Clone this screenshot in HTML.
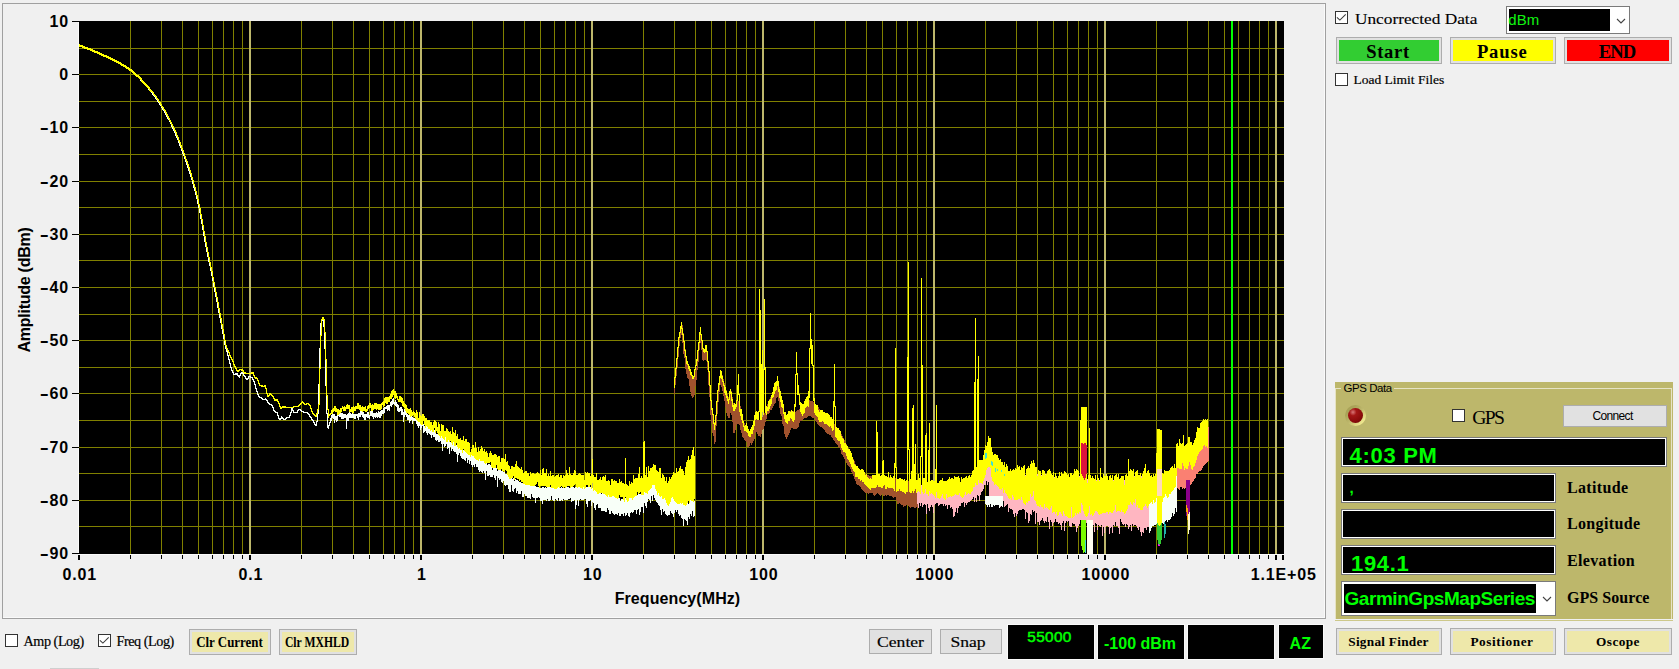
<!DOCTYPE html>
<html><head><meta charset="utf-8"><title>Spectrum</title>
<style>
html,body{margin:0;padding:0;}
body{width:1679px;height:669px;background:#f0f0f0;position:relative;overflow:hidden;font-family:"Liberation Serif",serif;color:#000;}
.abs,.yl,.xl,.chart,.cb,.btn,.cbtn,.blk,.lbl{position:absolute;}
.panel{left:2px;top:3px;width:1322px;height:614px;border:1px solid #a0a0a0;box-shadow:inset -1px -1px 0 #fafafa;}
.chart{left:0;top:0;}
.comic{font-family:"Liberation Sans","DejaVu Sans",sans-serif;font-weight:bold;}
.yl{right:1610px;width:60px;text-align:right;font:bold 16px/20px "Liberation Sans",sans-serif;white-space:nowrap;letter-spacing:.85px;margin-top:1px;}
.xl{top:565px;width:100px;text-align:center;font:bold 16px/20px "Liberation Sans",sans-serif;white-space:nowrap;letter-spacing:.85px;}
.xtitle{left:577.5px;top:589px;letter-spacing:.08px;width:200px;text-align:center;font:bold 16px/20px "Liberation Sans",sans-serif;}
.ytitle{left:-75px;top:279.5px;width:200px;height:20px;text-align:center;letter-spacing:-.25px;font:bold 16px/20px "Liberation Sans",sans-serif;transform:rotate(-90deg);transform-origin:center center;white-space:nowrap;}
.hy{display:inline-block;transform:scaleX(1.7);transform-origin:100% 50%;margin-right:-.3px;}
.cb{width:11px;height:11px;border:1px solid #333;background:#fff;}
.cb svg{position:absolute;left:0;top:0;}
.lbl{white-space:nowrap;line-height:20px;}
.cbtn{box-sizing:border-box;border:1px solid #adadad;background:#e1e1e1;}
.cbtn i{position:absolute;left:2px;top:2px;right:2px;bottom:2px;display:block;}
.cbtn span{position:absolute;left:0;right:0;text-align:center;font-style:normal;font-weight:bold;white-space:nowrap;}
.btn{box-sizing:border-box;border:1px solid #adadad;background:#e1e1e1;text-align:center;white-space:nowrap;}
.blk{box-shadow:0 0 0 1px #fafafa;background:#000;color:#00ff00;white-space:nowrap;overflow:hidden;}
.field{position:absolute;box-sizing:border-box;border:1px solid #7a7a7a;background:#000;box-shadow:inset 0 0 0 1px #fff;color:#00ff00;white-space:nowrap;overflow:hidden;}
.gps{left:1335px;top:382px;width:338px;height:237px;background:#bdb76b;}
</style></head>
<body>
<div class="abs panel"></div>
<svg class="chart" width="1330" height="620" viewBox="0 0 1330 620" shape-rendering="crispEdges">
<rect x="78" y="21" width="1206" height="534" fill="#fbfbfb"/>
<rect x="79" y="21" width="1205" height="533" fill="#000"/>
<g transform="translate(0.5,0)" fill="none" stroke-width="1">
<path stroke="#808000" d="M130 21v533M161 21v533M182 21v533M198 21v533M212 21v533M223 21v533M233 21v533M242 21v533M301 21v533M332 21v533M353 21v533M369 21v533M383 21v533M394 21v533M404 21v533M413 21v533M472 21v533M503 21v533M524 21v533M540 21v533M554 21v533M565 21v533M575 21v533M584 21v533M643 21v533M674 21v533M695 21v533M711 21v533M725 21v533M736 21v533M746 21v533M755 21v533M814 21v533M845 21v533M866 21v533M882 21v533M896 21v533M907 21v533M917 21v533M926 21v533M985 21v533M1016 21v533M1037 21v533M1053 21v533M1067 21v533M1078 21v533M1088 21v533M1097 21v533M1156 21v533M1187 21v533M1208 21v533M1224 21v533M1238 21v533M1249 21v533M1259 21v533M1268 21v533"/>
</g>
<g transform="translate(0,0.5)" fill="none" stroke-width="1"><path stroke="#808000" d="M79 48h1205M79 74h1205M79 101h1205M79 127h1205M79 154h1205M79 181h1205M79 207h1205M79 234h1205M79 260h1205M79 287h1205M79 314h1205M79 340h1205M79 367h1205M79 393h1205M79 420h1205M79 447h1205M79 473h1205M79 500h1205M79 526h1205"/></g>
<path fill="#bdb76b" d="M249 21h2v533h-2zM420 21h2v533h-2zM591 21h2v533h-2zM762 21h2v533h-2zM933 21h2v533h-2zM1104 21h2v533h-2zM1275 21h2v533h-2z"/>
<rect x="1231" y="21" width="2" height="533" fill="#00ff00"/>
<g transform="translate(0.5,0)" fill="none" stroke-width="1">
<path stroke="#f8fff8" d="M78 44v2M79 45v1M80 45v1M81 45v2M82 46v1M83 46v1M84 46v2M85 47v1M86 47v2M87 48v1M88 48v1M89 48v2M90 49v1M91 49v2M92 50v1M93 50v1M94 50v2M95 51v1M96 51v2M97 52v1M98 52v2M99 53v1M100 53v2M101 54v1M102 54v1M103 54v2M104 55v1M105 55v2M106 56v1M107 56v2M108 57v1M109 57v2M110 58v1M111 58v2M112 59v1M113 59v2M114 60v1M115 60v2M116 61v1M117 61v2M118 62v2M119 63v1M120 63v2M121 64v1M122 64v2M123 65v1M124 65v2M125 66v2M126 67v1M127 67v2M128 68v2M129 69v2M130 70v1M131 70v2M132 71v2M133 72v2M134 73v2M135 74v2M136 75v1M137 75v2M138 76v2M139 77v2M140 78v3M141 80v2M142 81v2M143 82v2M144 83v2M145 84v2M146 85v2M147 86v2M148 87v3M149 89v2M150 90v2M151 91v2M152 92v3M153 94v2M154 95v2M155 96v3M156 98v2M157 99v3M158 101v2M159 102v3M160 104v2M161 105v3M162 107v3M163 109v2M164 110v3M165 112v3M166 114v3M167 116v3M168 118v2M169 119v3M170 121v3M171 123v4M172 126v3M173 128v3M174 130v3M175 132v4M176 135v3M177 137v3M178 139v4M179 142v4M180 145v3M181 147v4M182 150v4M183 153v3M184 155v4M185 158v4M186 161v4M187 164v4M188 167v4M189 170v4M190 173v4M191 176v4M192 179v5M193 183v5M194 187v4M195 190v5M196 194v5M197 198v6M198 203v5M199 207v6M200 212v7M201 218v6M202 223v7M203 229v7M204 235v7M205 241v6M206 246v6M207 251v6M208 256v6M209 261v5M210 265v6M211 270v6M212 275v6M213 280v7M214 286v6M215 291v6M216 296v6M217 301v7M218 307v6M219 312v6M220 317v6M221 322v7M222 328v6M223 333v6M224 338v7M225 344v5M226 348v4M227 351v5M228 355v5M229 359v5M230 363v5M231 367v4M232 370v3M233 372v3M234 374v1M235 373v2M236 373v2M237 373v3M238 375v2M239 375v3M240 373v3M241 372v2M242 372v2M243 373v3M244 375v2M245 376v3M246 378v2M247 378v2M248 376v3M249 376v1M250 376v2M251 377v1M252 377v3M253 379v3M254 381v4M255 384v5M256 388v4M257 391v4M258 394v3M259 396v2M260 397v1M261 397v2M262 398v2M263 399v1M264 399v1M265 398v2M266 399v2M267 400v3M268 402v2M269 403v2M270 404v1M271 404v2M272 405v3M273 407v4M274 410v2M275 411v2M276 412v1M277 412v4M278 415v4M279 418v2M280 418v2M281 416v3M282 417v2M283 418v2M284 419v1M285 418v2M286 417v2M287 417v1M288 417v1M289 415v3M290 412v4M291 408v5M292 408v3M293 410v3M294 412v1M295 412v1M296 412v1M297 410v3M298 409v2M299 409v1M300 409v2M301 410v2M302 411v1M303 411v2M304 412v1M305 412v1M306 412v1M307 412v2M308 413v2M309 414v3M310 416v2M311 417v3M312 419v2M313 420v3M314 422v3M315 424v2M316 421v5M317 413v9M318 384v30M319 348v37M320 323v26M321 320v4M322 319v2M323 320v7M324 326v23M325 348v38M326 385v29M327 413v15M328 425v4M329 422v4M330 418v5M331 415v6M332 414v4M333 414v5M334 414v9M335 416v4M336 416v6M337 414v7M338 413v3M339 413v4M340 412v5M341 413v6M342 413v6M343 414v5M344 414v4M345 414v4M346 415v14M347 414v7M348 413v8M349 412v6M350 413v5M351 414v4M352 413v5M353 414v4M354 414v5M355 414v5M356 414v2M357 414v4M358 413v7M359 413v4M360 411v6M361 411v4M362 411v6M363 412v6M364 414v6M365 414v6M366 414v3M367 412v6M368 412v6M369 415v4M370 411v5M371 411v5M372 411v6M373 413v6M374 413v4M375 413v5M376 412v5M377 413v5M378 411v6M379 412v6M380 411v7M381 410v6M382 410v4M383 408v6M384 407v6M385 407v2M386 406v3M387 405v6M388 405v5M389 405v6M390 402v4M391 401v6M392 399v6M393 398v6M394 402v3M395 400v6M396 402v5M397 404v7M398 405v7M399 408v4M400 407v4M401 407v8M402 409v6M403 412v10M404 409v8M405 411v4M406 412v5M407 414v6M408 415v5M409 415v8M410 415v6M411 416v4M412 417v7M413 418v3M414 418v3M415 418v3M416 418v6M417 421v5M418 420v8M419 421v5M420 422v8M421 423v5M422 424v2M423 424v9M424 426v6M425 426v5M426 426v7M427 426v9M428 427v6M429 428v6M430 430v5M431 430v8M432 429v6M433 429v8M434 430v7M435 431v9M436 434v7M437 434v6M438 433v9M439 433v9M440 434v7M441 436v8M442 436v15M443 436v8M444 437v10M445 437v9M446 438v6M447 439v10M448 439v9M449 441v13M450 442v5M451 441v10M452 442v7M453 442v9M454 443v9M455 443v9M456 445v9M457 445v17M458 445v10M459 446v7M460 447v9M461 447v11M462 448v11M463 450v9M464 451v9M465 450v11M466 451v7M467 451v12M468 452v8M469 453v11M470 453v8M471 454v11M472 455v12M473 455v10M474 456v11M475 456v8M476 457v10M477 457v10M478 458v12M479 459v13M480 460v11M481 461v11M482 460v13M483 461v10M484 461v12M485 462v18M486 462v9M487 465v11M488 464v12M489 464v11M490 465v12M491 466v11M492 470v7M493 466v9M494 468v10M495 468v12M496 468v8M497 471v16M498 469v9M499 470v10M500 470v9M501 471v11M502 471v12M503 472v9M504 472v13M505 474v12M506 474v11M507 474v11M508 475v14M509 475v17M510 477v15M511 477v8M512 479v12M513 478v14M514 481v8M515 479v9M516 480v13M517 480v11M518 481v13M519 482v12M520 482v12M521 483v8M522 483v14M523 484v13M524 483v11M525 485v11M526 484v12M527 485v13M528 485v13M529 485v13M530 485v14M531 485v9M532 485v12M533 486v12M534 486v12M535 486v17M536 487v11M537 487v11M538 487v10M539 487v11M540 488v13M541 488v13M542 487v17M543 487v13M544 488v12M545 487v13M546 488v13M547 487v12M548 487v14M549 487v14M550 487v13M551 487v9M552 487v13M553 487v14M554 487v14M555 488v11M556 487v13M557 487v14M558 487v11M559 487v14M560 488v13M561 487v13M562 488v13M563 488v11M564 488v12M565 487v13M566 487v13M567 487v13M568 487v12M569 488v11M570 487v11M571 487v15M572 487v14M573 487v14M574 488v12M575 487v22M576 487v18M577 487v13M578 487v19M579 487v13M580 487v12M581 487v13M582 487v13M583 487v13M584 488v11M585 487v12M586 487v17M587 487v20M588 487v14M589 487v14M590 487v13M591 488v18M592 488v14M593 488v15M594 488v20M595 489v21M596 491v14M597 490v14M598 491v17M599 491v17M600 492v16M601 494v17M602 493v18M603 493v18M604 494v17M605 494v18M606 494v18M607 494v14M608 495v15M609 496v18M610 495v19M611 495v16M612 496v17M613 496v18M614 497v18M615 497v17M616 498v16M617 498v17M618 498v15M619 498v18M620 501v15M621 499v15M622 499v15M623 499v17M624 499v14M625 498v18M626 498v17M627 498v15M628 497v19M629 498v19M630 497v16M631 496v16M632 497v16M633 496v16M634 496v14M635 496v14M636 495v19M637 495v15M638 494v15M639 494v21M640 494v18M641 495v12M642 493v14M643 492v21M644 492v11M645 490v16M646 491v17M647 489v13M648 487v12M649 486v14M650 486v17M651 484v12M652 483v18M653 484v11M654 485v13M655 487v13M656 488v14M657 489v14M658 490v15M659 492v14M660 493v17M661 494v21M662 496v13M663 496v16M664 498v13M665 499v15M666 499v16M667 502v14M668 501v14M669 499v16M670 498v13M671 497v16M672 497v17M673 497v20M674 497v16M675 496v14M676 497v15M677 497v13M678 498v16M679 499v17M680 500v15M681 502v16M682 502v17M683 504v22M684 503v16M685 504v16M686 503v18M687 503v22M688 504v13M689 501v18M690 500v14M691 500v16M692 500v11M693 500v17M694 501v15"/>
<path stroke="#ffff00" d="M79 44v3M80 45v2M81 45v2M82 45v3M83 46v2M84 46v3M85 47v2M86 47v2M87 47v3M88 48v2M89 48v2M90 48v3M91 49v2M92 49v3M93 50v2M94 50v3M95 51v2M96 51v2M97 51v3M98 52v2M99 52v3M100 53v2M101 53v3M102 54v2M103 54v3M104 55v2M105 55v2M106 55v3M107 56v2M108 56v3M109 57v2M110 57v3M111 58v2M112 58v3M113 59v2M114 59v3M115 60v2M116 60v3M117 61v2M118 61v3M119 62v2M120 62v3M121 63v3M122 64v2M123 64v3M124 65v2M125 65v3M126 66v3M127 67v2M128 67v3M129 68v3M130 69v2M131 69v3M132 70v3M133 71v3M134 72v3M135 73v3M136 74v3M137 75v2M138 75v3M139 76v3M140 77v3M141 78v4M142 80v3M143 81v3M144 82v3M145 83v3M146 84v3M147 85v3M148 86v3M149 87v4M150 89v3M151 90v2M152 91v2M153 92v3M154 94v2M155 95v2M156 96v3M157 98v2M158 99v3M159 101v2M160 102v3M161 104v3M162 106v2M163 107v3M164 109v2M165 110v3M166 112v3M167 114v3M168 116v3M169 118v3M170 120v3M171 122v3M172 124v3M173 126v3M174 128v3M175 130v3M176 132v4M177 135v3M178 137v4M179 140v3M180 142v4M181 145v4M182 148v3M183 150v4M184 153v4M185 156v4M186 159v3M187 161v4M188 164v4M189 167v4M190 170v4M191 173v5M192 177v4M193 180v5M194 184v4M195 187v5M196 191v5M197 195v5M198 199v6M199 204v5M200 208v7M201 214v6M202 219v7M203 225v7M204 231v6M205 236v7M206 242v6M207 247v6M208 252v6M209 257v6M210 262v6M211 267v5M212 271v7M213 277v6M214 282v6M215 287v6M216 292v6M217 297v6M218 302v7M219 308v6M220 313v6M221 318v7M222 324v6M223 329v6M224 334v7M225 340v6M226 345v4M227 348v3M228 350v3M229 352v4M230 355v3M231 357v3M232 359v3M233 361v4M234 364v3M235 366v3M236 368v3M237 370v2M238 370v2M239 369v2M240 369v1M241 369v2M242 369v2M243 370v3M244 372v2M245 372v2M246 373v1M247 373v1M248 373v1M249 373v1M250 373v1M251 372v2M252 372v2M253 372v4M254 375v3M255 377v2M256 377v2M257 378v3M258 380v4M259 383v3M260 385v1M261 385v2M262 385v2M263 386v1M264 385v2M265 385v4M266 388v6M267 393v4M268 395v2M269 393v3M270 393v2M271 394v2M272 395v2M273 396v3M274 398v3M275 399v2M276 399v2M277 399v3M278 401v3M279 403v4M280 406v3M281 407v2M282 406v2M283 406v2M284 406v2M285 406v2M286 407v1M287 407v1M288 407v1M289 407v1M290 407v1M291 407v1M292 407v1M293 406v2M294 406v1M295 406v1M296 406v1M297 406v1M298 405v2M299 404v2M300 403v2M301 402v2M302 401v2M303 402v2M304 403v2M305 404v1M306 403v2M307 403v1M308 403v2M309 404v2M310 405v4M311 408v4M312 411v3M313 413v2M314 414v2M315 415v2M316 413v4M317 409v5M318 404v6M319 368v37M320 335v34M321 319v17M322 317v3M323 317v3M324 319v14M325 332v28M326 359v37M327 395v15M328 409v9M329 414v2M330 413v2M331 410v4M332 409v5M333 408v4M334 406v5M335 406v6M336 408v4M337 409v6M338 409v6M339 410v4M340 408v5M341 408v4M342 406v3M343 407v4M344 406v5M345 407v4M346 405v4M347 404v5M348 405v4M349 405v7M350 409v3M351 407v5M352 407v6M353 406v7M354 407v4M355 406v5M356 406v3M357 403v6M358 403v6M359 405v5M360 405v6M361 407v4M362 406v6M363 407v4M364 407v4M365 406v6M366 409v3M367 406v5M368 405v4M369 403v5M370 403v5M371 405v6M372 404v7M373 405v5M374 403v6M375 403v6M376 403v7M377 404v5M378 404v6M379 404v6M380 404v6M381 403v6M382 402v3M383 401v6M384 398v8M385 397v6M386 397v7M387 397v7M388 397v5M389 396v6M390 394v5M391 391v8M392 390v7M393 389v6M394 391v7M395 391v8M396 393v5M397 396v4M398 399v3M399 396v6M400 396v6M401 397v6M402 398v8M403 401v6M404 403v5M405 404v7M406 405v8M407 408v5M408 409v5M409 409v6M410 408v9M411 410v6M412 412v4M413 411v4M414 412v5M415 413v6M416 410v10M417 412v9M418 418v4M419 412v10M420 415v9M421 416v9M422 414v11M423 414v7M424 416v9M425 418v10M426 418v8M427 420v7M428 420v9M429 420v9M430 422v9M431 422v8M432 425v7M433 422v10M434 420v8M435 421v12M436 422v9M437 427v6M438 422v13M439 424v12M440 431v7M441 424v12M442 425v13M443 425v14M444 431v9M445 431v6M446 428v14M447 429v13M448 431v9M449 432v10M450 431v10M451 434v9M452 427v18M453 432v10M454 433v13M455 430v16M456 436v7M457 434v13M458 439v10M459 439v9M460 438v12M461 440v10M462 440v13M463 436v13M464 441v10M465 439v13M466 439v14M467 442v12M468 442v13M469 443v12M470 452v5M471 449v6M472 445v11M473 445v11M474 448v10M475 442v17M476 448v12M477 452v8M478 447v14M479 451v8M480 449v12M481 446v15M482 448v13M483 451v10M484 449v14M485 452v12M486 451v12M487 453v10M488 457v6M489 453v10M490 451v11M491 453v14M492 455v13M493 455v13M494 454v14M495 454v14M496 455v10M497 457v12M498 456v14M499 456v14M500 462v8M501 458v11M502 458v13M503 458v13M504 459v13M505 454v16M506 462v9M507 461v14M508 465v12M509 466v13M510 469v10M511 466v12M512 466v12M513 467v9M514 467v13M515 464v14M516 461v17M517 466v13M518 467v12M519 468v13M520 469v11M521 467v15M522 470v12M523 473v11M524 472v12M525 471v14M526 471v14M527 473v12M528 473v12M529 476v9M530 472v14M531 474v12M532 473v13M533 473v13M534 474v12M535 474v11M536 473v11M537 472v10M538 473v13M539 474v14M540 470v16M541 475v11M542 469v17M543 468v18M544 473v13M545 473v13M546 469v18M547 476v11M548 474v13M549 476v11M550 471v14M551 476v12M552 475v13M553 475v13M554 477v12M555 476v13M556 475v14M557 475v13M558 474v13M559 477v11M560 475v12M561 475v11M562 478v9M563 475v13M564 476v11M565 475v13M566 470v17M567 473v13M568 475v11M569 467v19M570 474v14M571 475v12M572 475v12M573 473v13M574 470v15M575 471v13M576 475v12M577 475v13M578 474v13M579 473v14M580 474v14M581 475v13M582 475v14M583 475v12M584 480v9M585 472v16M586 473v12M587 472v13M588 473v14M589 473v14M590 476v9M591 474v15M592 459v24M593 475v16M594 477v13M595 477v14M596 473v19M597 480v14M598 480v14M599 479v14M600 477v16M601 480v13M602 477v16M603 476v18M604 477v17M605 475v20M606 481v15M607 481v16M608 480v15M609 481v16M610 485v12M611 479v18M612 479v17M613 481v15M614 480v17M615 481v17M616 481v17M617 483v16M618 483v15M619 479v16M620 482v15M621 481v16M622 483v14M623 483v17M624 484v18M625 458v39M626 484v16M627 485v17M628 486v15M629 481v17M630 484v14M631 482v16M632 483v17M633 475v23M634 479v18M635 478v18M636 478v18M637 478v14M638 474v20M639 467v26M640 478v14M641 476v19M642 478v17M643 442v53M644 441v51M645 475v18M646 467v26M647 477v17M648 466v25M649 471v19M650 468v21M651 468v20M652 467v18M653 464v21M654 465v20M655 465v24M656 470v21M657 471v24M658 472v21M659 468v28M660 468v29M661 478v18M662 474v25M663 475v24M664 477v21M665 481v19M666 477v26M667 483v22M668 481v25M669 477v27M670 479v23M671 477v21M672 475v22M673 472v27M674 473v28M675 473v29M676 468v35M677 472v32M678 471v33M679 468v36M680 466v37M681 469v35M682 469v34M683 471v34M684 475v30M685 467v39M686 462v43M687 460v43M688 456v45M689 460v43M690 459v41M691 455v46M692 450v51M693 447v55M694 456v43"/>
<path stroke="#a0522d" d="M674 383v11M675 374v11M676 366v10M677 355v13M678 344v13M679 336v10M680 330v8M681 324v11M682 325v18M683 333v21M684 341v17M685 349v20M686 357v17M687 362v16M688 365v14M689 367v19M690 370v22M691 373v23M692 375v23M693 377v20M694 377v18M695 372v14M696 367v13M697 359v11M698 348v14M699 336v14M700 332v11M701 334v16M702 342v18M703 351v10M704 350v10M705 348v12M706 345v16M707 352v18M708 362v23M709 375v22M710 389v26M711 402v21M712 410v23M713 416v20M714 422v22M715 423v19M716 410v16M717 398v16M718 386v16M719 380v12M720 374v11M721 371v16M722 375v16M723 379v17M724 383v18M725 387v20M726 390v23M727 394v22M728 397v21M729 397v21M730 391v22M731 391v24M732 397v25M733 403v30M734 409v24M735 407v23M736 404v21M737 401v23M738 401v23M739 403v22M740 406v24M741 411v22M742 416v21M743 420v18M744 423v17M745 425v16M746 427v15M747 428v19M748 430v17M749 431v15M750 430v13M751 428v17M752 427v16M753 426v15M754 423v16M755 420v13M756 417v15M757 415v19M758 417v19M759 420v16M760 420v17M761 419v15M762 417v13M763 415v14M764 413v13M765 410v12M766 407v12M767 404v10M768 401v13M769 399v14M770 397v13M771 395v15M772 393v15M773 392v14M774 389v15M775 386v17M776 384v14M777 381v16M778 381v20M779 387v21M780 393v21M781 399v17M782 403v21M783 407v19M784 412v22M785 415v22M786 418v21M787 418v19M788 416v19M789 414v19M790 411v19M791 410v18M792 411v17M793 411v18M794 412v17M795 412v17M796 411v18M797 410v18M798 410v17M799 409v14M800 408v13M801 407v14M802 405v15M803 404v15M804 403v15M805 402v16M806 402v16M807 401v16M808 400v16M809 400v16M810 401v15M811 401v16M812 401v17M813 402v16M814 403v15M815 404v17M816 405v17M817 406v18M818 407v18M819 409v17M820 410v17M821 411v16M822 412v16M823 412v17M824 413v17M825 414v18M826 415v18M827 416v18M828 417v17M829 417v18M830 418v17M831 420v17M832 421v17M833 422v18M834 424v17M835 425v18M836 427v17M837 428v17M838 429v18M839 431v17M840 432v18M841 434v20M842 436v19M843 438v19M844 440v19M845 442v19M846 444v19M847 446v19M848 448v18M849 450v17M850 452v17M851 455v17M852 457v16M853 459v17M854 461v18M855 464v17M856 466v18M857 468v17M858 469v16M859 470v16M860 471v16M861 472v17M862 473v17M863 473v18M864 473v19M865 474v19M866 474v19M867 475v18M868 475v19M869 476v17M870 476v17M871 476v17M872 476v17M873 476v19M874 476v20M875 476v19M876 476v18M877 476v17M878 477v17M879 477v18M880 477v19M881 477v18M882 477v17M883 477v19M884 477v19M885 477v18M886 477v19M887 477v18M888 477v18M889 477v19M890 477v19M891 477v19M892 478v19M893 478v20M894 478v19M895 478v19M896 479v22M897 479v25M898 479v25M899 480v23M900 480v24M901 480v25M902 480v25M903 481v26M904 481v25M905 481v25M906 481v24M907 481v24M908 481v25M909 481v26M910 481v27M911 481v26M912 481v26M913 481v26M914 481v27M915 481v27M916 481v26M917 481v27"/>
<path stroke="#ffb6c1" d="M917 485v19M918 485v23M919 485v18M920 485v21M921 485v18M922 485v22M923 485v20M924 485v19M925 485v20M926 485v29M927 485v19M928 485v23M929 486v25M930 486v21M931 486v19M932 486v21M933 486v27M934 486v19M935 486v18M936 486v17M937 486v17M938 486v20M939 486v19M940 486v18M941 486v18M942 485v19M943 485v21M944 485v19M945 485v21M946 484v21M947 484v25M948 484v21M949 484v21M950 483v25M951 483v24M952 483v26M953 483v34M954 483v33M955 483v29M956 482v26M957 482v31M958 482v26M959 482v24M960 482v24M961 482v21M962 482v21M963 482v20M964 481v26M965 481v22M966 481v24M967 481v22M968 481v21M969 481v21M970 481v20M971 480v20M972 478v21M973 476v21M974 473v29M975 472v26M976 471v31M977 470v25M978 469v27M979 468v33M980 467v28M981 466v26M982 465v26M983 463v26M984 459v26M985 454v31M986 450v31M987 447v38M988 446v36M989 445v51M990 444v55M991 449v48M992 454v44M993 456v49M994 457v48M995 458v47M996 459v45M997 460v41M998 460v40M999 461v43M1000 462v45M1001 463v40M1002 464v40M1003 466v35M1004 467v40M1005 468v38M1006 469v36M1007 470v34M1008 472v40M1009 473v35M1010 473v36M1011 473v36M1012 472v38M1013 472v42M1014 472v45M1015 472v41M1016 472v44M1017 471v43M1018 471v40M1019 471v39M1020 472v38M1021 473v37M1022 473v36M1023 474v35M1024 474v36M1025 475v44M1026 476v36M1027 474v39M1028 473v50M1029 471v50M1030 470v44M1031 469v46M1032 467v43M1033 466v46M1034 468v43M1035 470v54M1036 472v41M1037 474v48M1038 476v46M1039 475v50M1040 475v46M1041 475v45M1042 475v43M1043 474v47M1044 474v49M1045 474v47M1046 474v48M1047 473v44M1048 474v48M1049 474v55M1050 475v45M1051 475v47M1052 476v50M1053 476v47M1054 477v45M1055 477v42M1056 478v44M1057 478v44M1058 478v46M1059 478v45M1060 478v47M1061 478v52M1062 478v45M1063 478v43M1064 478v53M1065 478v45M1066 478v43M1067 478v44M1068 478v43M1069 478v48M1070 478v49M1071 478v49M1072 478v45M1073 478v46M1074 477v47M1075 477v49M1076 477v55M1077 477v51M1078 476v50M1079 476v48M1080 476v44M1081 476v50M1082 477v48M1083 477v50M1084 478v48M1085 478v47M1086 478v45M1087 479v48M1088 479v42M1089 479v41M1090 480v40M1091 480v48M1092 480v53M1093 480v45M1094 480v52M1095 480v43M1096 480v44M1097 480v50M1098 480v45M1099 480v46M1100 480v47M1101 480v45M1102 480v56M1103 480v47M1104 480v53M1105 480v47M1106 480v46M1107 480v46M1108 480v47M1109 480v54M1110 480v48M1111 480v47M1112 480v53M1113 480v45M1114 480v46M1115 480v42M1116 480v46M1117 480v46M1118 480v48M1119 480v54M1120 480v39M1121 480v42M1122 480v44M1123 480v45M1124 480v44M1125 480v47M1126 480v44M1127 480v45M1128 480v49M1129 478v49M1130 476v49M1131 476v55M1132 476v48M1133 476v50M1134 476v49M1135 476v49M1136 476v50M1137 476v52M1138 476v54M1139 476v51M1140 476v56M1141 476v60M1142 476v56M1143 476v57M1144 476v52M1145 476v52M1146 476v54M1147 476v51M1148 476v51M1149 476v50"/>
<path stroke="#f8fff8" d="M985 496v8M986 496v9M987 496v11M988 496v9M989 496v11M990 496v8M991 496v11M992 496v11M993 496v9M994 496v10M995 496v9M996 496v9M997 496v9M998 496v9M999 496v12M1000 496v10M1001 496v10M1002 496v11"/>
<path stroke="#f8fff8" d="M1149 476v57M1150 480v51M1151 483v45M1152 482v44M1153 482v44M1154 482v43M1155 481v44M1156 481v43M1157 481v39M1158 481v41M1159 481v44M1160 481v42M1161 481v43M1162 481v42M1163 480v44M1164 479v45M1165 478v43M1166 478v42M1167 477v45M1168 476v44M1169 475v45M1170 474v45M1171 473v44M1172 472v41M1173 471v45M1174 471v43M1175 470v38M1176 464v48"/>
<path stroke="#fa8072" d="M1177 449v39M1178 449v40M1179 449v41M1180 449v38M1181 449v38M1182 449v40M1183 450v38M1184 450v39M1185 450v38M1186 450v39M1187 450v38M1188 448v39M1189 443v42M1190 443v42M1191 447v37M1192 451v31M1193 450v31M1194 447v32M1195 443v35M1196 440v34M1197 437v37M1198 435v37M1199 433v38M1200 432v39M1201 430v40M1202 429v39M1203 427v39M1204 427v38M1205 427v37M1206 427v36M1207 427v35M1208 427v34"/>
<path stroke="#8b008b" d="M1186 480v36M1187 480v36M1188 480v34M1189 480v32"/>
<path stroke="#fffacd" d="M1188 514v20M1189 512v18"/>
<path stroke="#ffa500" d="M1186 505v7M1187 508v12"/>
<path stroke="#7cfc00" d="M1081 520v26M1082 520v30M1083 520v33M1084 520v32M1085 520v28"/>
<path stroke="#40e0d0" d="M1085 540v13"/>
<path stroke="#fffff0" d="M1087 520v34M1088 520v34M1089 520v34M1090 520v34M1091 520v34M1092 520v34"/>
<path stroke="#32cd32" d="M1157 520v20M1158 520v24M1159 520v25M1160 520v24M1161 520v20"/>
<path stroke="#20b2aa" d="M1164 522v16M1165 524v10"/>
<path stroke="#ff00ff" d="M1158 544v2M1159 545v1"/>
<path stroke="#ffff00" d="M674 377v11M675 368v10M676 358v11M677 347v12M678 337v11M679 332v6M680 326v7M681 322v7M682 328v7M683 334v8M684 341v10M685 350v7M686 356v8M687 361v4M688 364v5M689 366v5M690 369v6M691 372v4M692 375v4M693 376v3M694 369v8M695 365v5M696 359v7M697 350v11M698 342v9M699 332v11M700 327v8M701 334v7M702 340v9M703 348v4M704 349v4M705 345v7M706 345v7M707 351v11M708 361v11M709 371v15M710 385v16M711 400v10M712 408v7M713 414v10M714 423v7M715 415v10M716 401v15M717 390v12M718 383v8M719 376v9M720 370v8M721 371v8M722 376v6M723 381v5M724 385v8M725 387v8M726 391v7M727 396v5M728 399v5M729 391v9M730 389v5M731 392v9M732 399v8M733 405v6M734 403v8M735 404v5M736 400v7M737 385v16M738 374v21M739 394v18M740 409v7M741 409v11M742 414v9M743 421v6M744 426v5M745 425v6M746 423v9M747 426v7M748 429v7M749 431v6M750 429v8M751 427v7M752 425v9M753 421v9M754 415v11M755 412v8M756 411v8M757 412v8M758 411v9M759 289v123M760 310v110M761 364v56M762 350v62M763 369v46M764 299v71M765 367v46M766 406v9M767 407v4M768 401v10M769 400v9M770 399v7M771 395v9M772 392v6M773 387v10M774 383v11M775 382v9M776 381v9M777 376v10M778 381v11M779 389v9M780 391v11M781 396v11M782 400v8M783 404v10M784 412v7M785 412v10M786 415v8M787 414v10M788 411v10M789 411v10M790 412v6M791 410v9M792 411v10M793 412v10M794 404v16M795 374v33M796 352v23M797 373v22M798 385v10M799 394v11M800 402v10M801 403v11M802 404v12M803 404v10M804 401v12M805 399v9M806 397v10M807 396v10M808 391v16M809 348v50M810 313v36M811 339v25M812 345v21M813 365v36M814 398v15M815 404v11M816 405v11M817 405v12M818 410v10M819 412v10M820 410v12M821 410v12M822 410v11M823 412v10M824 412v12M825 413v11M826 413v11M827 413v12M828 414v12M829 415v12M830 417v9M831 417v11M832 419v12M833 401v29M834 364v43M835 406v31M836 427v11M837 428v12M838 428v13M839 430v11M840 431v13M841 436v12M842 438v12M843 439v13M844 443v9M845 443v10M846 445v11M847 446v13M848 449v11M849 449v13M850 451v13M851 453v14M852 457v12M853 460v11M854 464v8M855 465v12M856 466v11M857 466v11M858 468v11M859 469v10M860 470v11M861 469v11M862 469v13M863 470v12M864 472v12M865 475v10M866 474v12M867 477v10M868 478v10M869 479v10M870 478v12M871 479v9M872 475v13M873 475v13M874 475v13M875 475v13M876 421v66M877 432v53M878 474v13M879 474v13M880 476v11M881 475v13M882 461v27M883 460v26M884 475v10M885 476v13M886 476v13M887 477v10M888 472v16M889 478v10M890 475v13M891 477v11M892 478v10M893 476v13M894 463v28M895 348v120M896 467v25M897 479v12M898 479v12M899 478v11M900 478v13M901 479v12M902 479v13M903 480v12M904 479v14M905 481v13M906 480v12M907 357v135M908 262v188M909 449v43M910 479v14M911 471v22M912 408v83M913 405v88M914 464v27M915 444v45M916 480v13M917 480v12M918 474v17M919 478v14M920 456v38M921 278v179M922 365v127M923 478v16M924 478v15M925 435v54M926 433v61M927 482v12M928 450v46M929 423v68M930 481v13M931 480v13M932 480v14M933 481v14M934 481v15M935 469v29M936 405v87M937 483v15M938 483v15M939 481v18M940 480v18M941 480v16M942 478v16M943 481v17M944 481v18M945 481v19M946 481v13M947 480v18M948 479v18M949 477v20M950 479v17M951 478v19M952 478v18M953 479v17M954 476v19M955 477v17M956 477v18M957 477v18M958 476v19M959 478v15M960 482v14M961 477v20M962 479v19M963 478v19M964 478v17M965 477v15M966 476v19M967 478v16M968 476v17M969 475v19M970 477v17M971 475v17M972 471v20M973 470v17M974 382v105M975 318v165M976 467v18M977 379v106M978 356v124M979 460v23M980 460v23M981 460v23M982 460v24M983 455v26M984 450v28M985 445v30M986 446v24M987 442v26M988 436v31M989 438v29M990 438v30M991 447v30M992 452v29M993 455v27M994 454v31M995 454v30M996 455v30M997 455v31M998 458v29M999 460v29M1000 459v30M1001 462v28M1002 462v26M1003 465v28M1004 462v28M1005 467v26M1006 464v30M1007 466v30M1008 471v27M1009 471v28M1010 469v29M1011 471v29M1012 470v25M1013 469v28M1014 470v30M1015 468v32M1016 469v31M1017 465v35M1018 467v32M1019 466v33M1020 470v30M1021 467v30M1022 468v32M1023 466v37M1024 465v39M1025 476v29M1026 469v33M1027 468v35M1028 466v35M1029 468v33M1030 464v30M1031 461v36M1032 463v33M1033 460v31M1034 463v37M1035 467v34M1036 467v37M1037 476v30M1038 470v36M1039 471v36M1040 471v34M1041 476v31M1042 470v37M1043 470v39M1044 471v33M1045 475v33M1046 474v33M1047 471v37M1048 470v39M1049 469v41M1050 471v37M1051 474v32M1052 475v38M1053 472v40M1054 478v34M1055 473v41M1056 476v36M1057 478v38M1058 476v39M1059 472v40M1060 476v36M1061 472v42M1062 474v42M1063 474v37M1064 471v43M1065 472v44M1066 473v43M1067 475v42M1068 474v44M1069 477v41M1070 473v45M1071 473v34M1072 475v43M1073 474v43M1074 469v47M1075 471v42M1076 469v46M1077 470v43M1078 471v43M1079 477v35M1080 420v93M1081 407v96M1082 407v98M1083 407v104M1084 407v107M1085 407v109M1086 407v110M1087 483v33M1088 475v38M1089 428v78M1090 475v40M1091 478v36M1092 476v40M1093 478v37M1094 479v34M1095 475v36M1096 481v30M1097 475v37M1098 478v36M1099 481v34M1100 468v46M1101 477v37M1102 478v35M1103 474v39M1104 476v37M1105 476v37M1106 474v38M1107 476v36M1108 480v34M1109 476v36M1110 475v37M1111 478v35M1112 475v38M1113 481v30M1114 476v34M1115 475v30M1116 474v38M1117 477v34M1118 474v37M1119 479v32M1120 478v34M1121 476v34M1122 476v36M1123 476v36M1124 485v29M1125 475v38M1126 474v37M1127 476v33M1128 459v46M1129 471v34M1130 469v33M1131 470v34M1132 471v34M1133 469v33M1134 477v26M1135 472v27M1136 471v36M1137 470v35M1138 475v33M1139 475v33M1140 473v37M1141 478v32M1142 474v36M1143 471v36M1144 468v38M1145 464v40M1146 473v33M1147 471v37M1148 470v36M1149 473v31M1150 476v27M1151 475v27M1152 477v27M1153 474v26M1154 476v27M1155 474v28M1156 453v45M1157 429v71M1158 429v71M1159 429v65M1160 430v74M1161 430v74M1162 473v29M1163 474v24M1164 470v27M1165 471v23M1166 471v25M1167 471v27M1168 471v26M1169 470v24M1170 468v26M1171 467v25M1172 466v25M1173 468v22M1174 464v24M1175 468v19M1176 444v32M1177 443v25M1178 446v22M1179 439v30M1180 443v26M1181 444v25M1182 443v20M1183 435v31M1184 446v24M1185 445v23M1186 444v25M1187 443v26M1188 437v29M1189 437v25M1190 442v23M1191 442v27M1192 445v25M1193 443v24M1194 440v26M1195 438v25M1196 432v28M1197 427v29M1198 428v26M1199 428v24M1200 423v28M1201 422v28M1202 421v28M1203 419v27M1204 420v25M1205 419v28M1206 420v26M1207 419v29"/>
<path stroke="#ffff00" d="M1157 470v53M1158 470v55M1159 470v56M1160 470v55M1161 470v53"/>
<path stroke="#ffdab9" d="M1157 469v27M1158 469v27M1159 469v27M1160 469v27M1161 469v27"/>
<path stroke="#dc143c" d="M1081 443v31M1082 443v33M1083 444v34M1084 443v37M1085 443v35M1086 445v29"/>
<path stroke="#40e0d0" d="M985 453v6M986 453v5M991 461v4M992 462v4M995 468v4M997 469v2M1001 470v2M1004 474v2"/>
</g>
<g transform="translate(0.5,0)" fill="none" stroke-width="1"><path stroke="#000" d="M130 555v4M161 555v4M182 555v4M198 555v4M212 555v4M223 555v4M233 555v4M242 555v4M301 555v4M332 555v4M353 555v4M369 555v4M383 555v4M394 555v4M404 555v4M413 555v4M472 555v4M503 555v4M524 555v4M540 555v4M554 555v4M565 555v4M575 555v4M584 555v4M643 555v4M674 555v4M695 555v4M711 555v4M725 555v4M736 555v4M746 555v4M755 555v4M814 555v4M845 555v4M866 555v4M882 555v4M896 555v4M907 555v4M917 555v4M926 555v4M985 555v4M1016 555v4M1037 555v4M1053 555v4M1067 555v4M1078 555v4M1088 555v4M1097 555v4M1156 555v4M1187 555v4M1208 555v4M1224 555v4M1238 555v4M1249 555v4M1259 555v4M1268 555v4"/></g>
<path fill="#000" d="M78 555h2v5h-2zM249 555h2v5h-2zM420 555h2v5h-2zM591 555h2v5h-2zM762 555h2v5h-2zM933 555h2v5h-2zM1104 555h2v5h-2zM1275 555h2v5h-2zM1282 555h2v5h-2z"/>
<g transform="translate(0,0.5)" fill="none" stroke-width="1"><path stroke="#000" d="M72 21h7M72 74h7M72 127h7M72 181h7M72 234h7M72 287h7M72 340h7M72 393h7M72 447h7M72 500h7M72 553h7"/></g>
</svg>
<div class="yl" style="top:11.0px">10</div>
<div class="yl" style="top:64.2px">0</div>
<div class="yl" style="top:117.4px"><span class="hy">-</span>10</div>
<div class="yl" style="top:170.6px"><span class="hy">-</span>20</div>
<div class="yl" style="top:223.8px"><span class="hy">-</span>30</div>
<div class="yl" style="top:277.0px"><span class="hy">-</span>40</div>
<div class="yl" style="top:330.2px"><span class="hy">-</span>50</div>
<div class="yl" style="top:383.4px"><span class="hy">-</span>60</div>
<div class="yl" style="top:436.6px"><span class="hy">-</span>70</div>
<div class="yl" style="top:489.8px"><span class="hy">-</span>80</div>
<div class="yl" style="top:543.0px"><span class="hy">-</span>90</div>
<div class="xl" style="left:29.8px">0.01</div>
<div class="xl" style="left:200.8px">0.1</div>
<div class="xl" style="left:371.8px">1</div>
<div class="xl" style="left:542.8px">10</div>
<div class="xl" style="left:713.8px">100</div>
<div class="xl" style="left:884.8px">1000</div>
<div class="xl" style="left:1055.8px">10000</div>
<div class="xl" style="left:1233.8px">1.1E+05</div>
<div class="abs xtitle">Frequency(MHz)</div>
<div class="abs ytitle">Amplitude (dBm)</div>

<!-- bottom left -->
<div class="cb" style="left:5px;top:634px"></div>
<div class="lbl" style="left:23.5px;top:630.7px;font-size:14.2px;letter-spacing:-.45px;-webkit-text-stroke:.2px #000">Amp (Log)</div>
<div class="cb" style="left:98px;top:634px"><svg width="11" height="11" viewBox="0 0 11 11"><path d="M0.9 5.3L3.9 8.1L9.7 2.3" fill="none" stroke="#3c3c3c" stroke-width="1.05"/></svg></div>
<div class="lbl" style="left:116.5px;top:630.7px;font-size:14.2px;letter-spacing:-.45px;-webkit-text-stroke:.2px #000">Freq (Log)</div>
<div class="cbtn" style="left:189px;top:629px;width:82px;height:26px"><i style="background:#eee8aa"></i><span style="top:2px;left:-1px;font-size:14.6px;line-height:20px;transform:scaleX(.885)">Clr Current</span></div>
<div class="cbtn" style="left:279px;top:629px;width:78px;height:26px"><i style="background:#eee8aa"></i><span style="top:2px;left:-3px;font-size:14.6px;line-height:20px;transform:scaleX(.8)">Clr MXHLD</span></div>
<div class="abs" style="left:50px;top:668px;width:49px;height:1px;background:#cfcfcf"></div>

<!-- bottom middle -->
<div class="btn" style="left:869px;top:629px;width:63px;height:25px"><span style="position:absolute;left:0;right:0;top:0;font-size:17.6px;line-height:24px;transform:scaleY(.85);transform-origin:50% 50%;-webkit-text-stroke:.2px #000">Center</span></div>
<div class="btn" style="left:940px;top:629px;width:62px;height:25px"><span style="position:absolute;left:-6px;right:0;top:0;font-size:17.6px;line-height:24px;transform:scaleY(.85);transform-origin:50% 50%;-webkit-text-stroke:.2px #000">Snap</span></div>
<div class="blk" style="left:1008px;top:625px;width:86px;height:34px;text-align:center;font:15.4px/20px 'Liberation Sans',sans-serif;letter-spacing:.3px;-webkit-text-stroke:.5px #00ff00"><span style="position:absolute;left:0;width:83px;top:2px">55000</span></div>
<div class="blk comic" style="left:1098px;top:625px;width:86px;height:34px;font-size:16px;line-height:20px"><span style="position:absolute;left:6px;top:9px">-100 dBm</span></div>
<div class="blk" style="left:1188px;top:625px;width:86px;height:34px"></div>
<div class="blk comic" style="left:1279px;top:625px;width:44px;height:33px;font-size:16px;line-height:20px;text-align:center"><span style="position:absolute;left:-1.5px;right:0;top:9px">AZ</span></div>

<!-- right top -->
<div class="cb" style="left:1335px;top:11px"><svg width="11" height="11" viewBox="0 0 11 11"><path d="M0.9 5.3L3.9 8.1L9.7 2.3" fill="none" stroke="#3c3c3c" stroke-width="1.05"/></svg></div>
<div class="lbl" style="left:1355px;top:10.2px;font-size:17.3px;transform:scaleY(.87);transform-origin:0 50%;-webkit-text-stroke:.15px #000">Uncorrected Data</div>
<div class="abs" style="left:1506px;top:6px;width:122px;height:26px;border:1px solid #7a7a7a;background:#fff">
  <div class="abs" style="left:2px;top:2px;width:101px;height:22px;background:#000;color:#10f410;font:15px/21px 'Liberation Sans',sans-serif;text-indent:-.7px">dBm</div>
  <svg class="abs" style="left:109px;top:9.8px" width="10" height="8" viewBox="0 0 10 8"><path d="M1 2L5 6L9 2" fill="none" stroke="#444" stroke-width="1.1"/></svg>
</div>
<div class="cbtn" style="left:1336px;top:37px;width:106px;height:27px"><i style="background:#32cd32"></i><span style="top:3px;left:-2px;font-size:18.6px;line-height:22px;letter-spacing:.65px">Start</span></div>
<div class="cbtn" style="left:1450px;top:37px;width:106px;height:27px"><i style="background:#ffff00"></i><span style="top:3px;left:-1.5px;font-size:18.6px;line-height:22px;letter-spacing:.85px">Pause</span></div>
<div class="cbtn" style="left:1564px;top:37px;width:108px;height:27px"><i style="background:#ff0000"></i><span style="top:3px;left:-2px;font-size:18.6px;line-height:22px;letter-spacing:-.9px">END</span></div>
<div class="cb" style="left:1335px;top:73px"></div>
<div class="lbl" style="left:1353.5px;top:69.6px;font-size:13.5px;-webkit-text-stroke:.2px #000">Load Limit Files</div>

<!-- GPS panel -->
<div class="abs gps"></div>
<div class="abs" style="left:1335px;top:388px;width:337px;height:231px;border:1px solid #e6e3c4;border-bottom:none;box-sizing:border-box"></div>
<div class="abs" style="left:1335px;top:620px;width:338px;height:1px;background:#cdc88a"></div>
<div class="lbl" style="left:1341px;top:383px;height:12px;padding:0 2px 0 2.5px;background:#bdb76b;font:11.5px/11px 'Liberation Sans',sans-serif;letter-spacing:-.45px">GPS Data</div>
<div class="abs" style="left:1345px;top:405px;width:21px;height:21px;border-radius:50%;background:linear-gradient(135deg,#a9a358 25%,#bdb76b 50%,#ebe48c 80%)"></div><div class="abs" style="left:1348px;top:408px;width:15px;height:15px;border-radius:50%;background:radial-gradient(circle at 33% 28%,#d87878 0%,#a41616 24%,#8c0c0c 60%,#600404 100%)"></div>
<div class="cb" style="left:1452px;top:409px"></div>
<div class="lbl" style="left:1472.3px;top:408px;font-size:19.6px;letter-spacing:-1.7px">GPS</div>
<div class="btn" style="left:1563px;top:405px;width:104px;height:22px;font:12px/20px 'Liberation Sans',sans-serif;letter-spacing:-.65px;text-indent:-5px">Connect</div>
<div class="field comic" style="left:1341px;top:437px;width:326px;height:30px;font-size:22px;line-height:24px;letter-spacing:.7px"><span style="position:absolute;left:7.5px;top:5.6px">4:03 PM</span></div>
<div class="field comic" style="left:1341px;top:473px;width:215px;height:30px;font-size:15px;line-height:16px"><span style="position:absolute;left:7.5px;top:5.5px">,</span></div>
<div class="lbl" style="left:1567px;top:478px;font-size:16px;font-weight:bold;letter-spacing:.35px">Latitude</div>
<div class="field comic" style="left:1341px;top:509px;width:215px;height:30px"></div>
<div class="lbl" style="left:1567px;top:514px;font-size:16px;font-weight:bold;letter-spacing:.35px">Longitude</div>
<div class="field comic" style="left:1341px;top:545px;width:215px;height:30px;font-size:22px;line-height:24px;letter-spacing:.7px"><span style="position:absolute;left:9px;top:5.5px">194.1</span></div>
<div class="lbl" style="left:1567px;top:551px;font-size:16px;font-weight:bold;letter-spacing:.35px">Elevation</div>
<div class="abs" style="left:1341px;top:581px;width:213px;height:33px;border:1px solid #7a7a7a;background:#fff">
  <div class="abs comic" style="left:2px;top:2px;width:192px;height:29px;background:#000;color:#00ff00;font-size:19px;line-height:29px;letter-spacing:-.45px;text-indent:.5px;white-space:nowrap;overflow:hidden">GarminGpsMapSeries</div>
  <svg class="abs" style="left:200px;top:13px" width="10" height="8" viewBox="0 0 10 8"><path d="M1 2L5 6L9 2" fill="none" stroke="#444" stroke-width="1.1"/></svg>
</div>
<div class="lbl" style="left:1567px;top:588px;font-size:16px;font-weight:bold;letter-spacing:.05px">GPS Source</div>

<!-- bottom right buttons -->
<div class="cbtn" style="left:1336px;top:628px;width:106px;height:27px"><i style="background:#eee8aa"></i><span style="top:3px;left:-1px;font-size:13.3px;line-height:20px;letter-spacing:.25px">Signal Finder</span></div>
<div class="cbtn" style="left:1450px;top:628px;width:106px;height:27px"><i style="background:#eee8aa"></i><span style="top:3px;left:-2px;font-size:13.3px;line-height:20px;letter-spacing:.55px">Positioner</span></div>
<div class="cbtn" style="left:1564px;top:628px;width:108px;height:27px"><i style="background:#eee8aa"></i><span style="top:3px;font-size:13.3px;line-height:20px;letter-spacing:.4px">Oscope</span></div>
</body></html>
